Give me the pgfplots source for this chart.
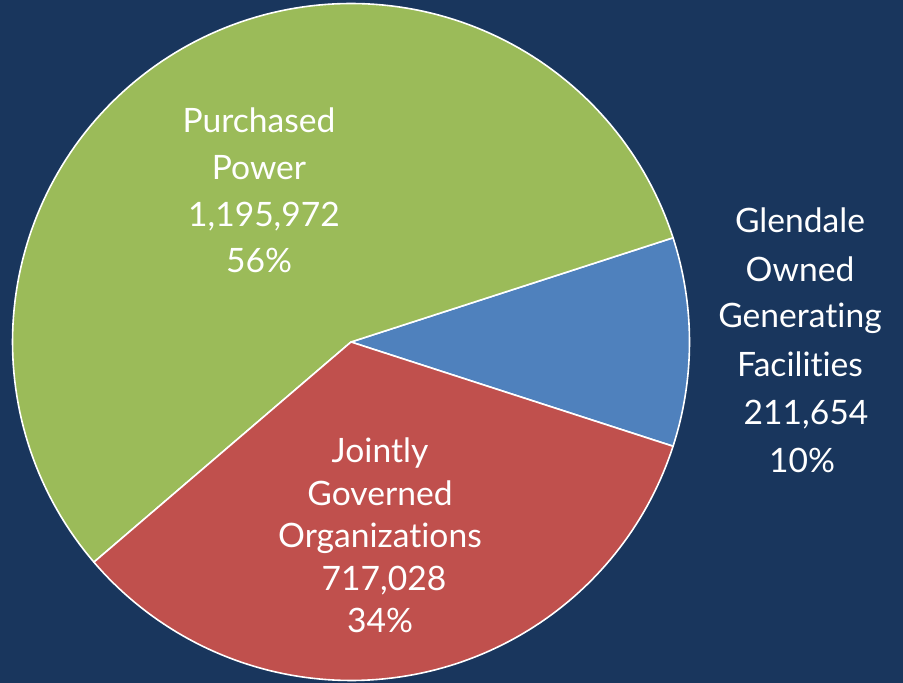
\documentclass[border=0pt]{standalone}
\usepackage{pgfplots}
\pgfplotsset{compat=1.18}
\usepackage{fontspec}
\setmainfont[Ligatures={NoCommon,NoRare,NoContextual}]{Lato}
\definecolor{bgc}{HTML}{19365D}
\definecolor{pgreen}{HTML}{9BBB59}
\definecolor{pred}{HTML}{C0504D}
\definecolor{pblue}{HTML}{4F81BD}
\tikzset{lbl/.style={text=white, anchor=base, inner sep=0pt, font=\fontsize{16.8}{20}\selectfont}}
% data (thousands)
\def\vA{211.654}   % Glendale Owned Generating Facilities
\def\vB{1195.972}  % Purchased Power
\def\vC{717.028}   % Jointly Governed Organizations
\pgfmathsetmacro\T{\vA+\vB+\vC}
\pgfmathsetmacro\fA{\vA/\T}
\pgfmathsetmacro\fB{\vB/\T}
\pgfmathsetmacro\fC{\vC/\T}
\pgfmathsetmacro\aS{-180*\fA}
\pgfmathsetmacro\aA{\aS+360*\fA}
\pgfmathsetmacro\aB{\aA+360*\fB}
\pgfmathsetmacro\aC{\aB+360*\fC}
\begin{document}
\begin{tikzpicture}
\fill[bgc] (0,0) rectangle (451.5pt,341.5pt);
\begin{axis}[at={(0,0)}, anchor=south west, scale only axis,
  width=451.5pt, height=341.5pt, xmin=0, xmax=903, ymin=0, ymax=683,
  hide axis, clip=false]
\addplot[fill=pblue, draw=white, line width=0.8pt, line join=round, domain=\aS:\aA, samples=40, variable=\t]
  ({351+338.5*cos(t)},{341+338.5*sin(t)}) -- (axis cs:351,341) -- cycle;
\addplot[fill=pgreen, draw=white, line width=0.8pt, line join=round, domain=\aA:\aB, samples=150, variable=\t]
  ({351+338.5*cos(t)},{341+338.5*sin(t)}) -- (axis cs:351,341) -- cycle;
\addplot[fill=pred, draw=white, line width=0.8pt, line join=round, domain=\aB:\aC, samples=100, variable=\t]
  ({351+338.5*cos(t)},{341+338.5*sin(t)}) -- (axis cs:351,341) -- cycle;
% Purchased Power
\node[lbl] at (axis cs:259,550) {Purchased};
\node[lbl] at (axis cs:259,503) {Power};
\node[lbl] at (axis cs:264,456) {1,195,972};
\node[lbl] at (axis cs:259,410) {56\%};
% Glendale
\node[lbl] at (axis cs:800,450) {Glendale};
\node[lbl] at (axis cs:800,401) {Owned};
\node[lbl] at (axis cs:800,355) {Generating};
\node[lbl] at (axis cs:800,306) {Facilities};
\node[lbl] at (axis cs:806,258) {211,654};
\node[lbl] at (axis cs:802,210) {10\%};
% Jointly
\node[lbl] at (axis cs:380,220) {Jointly};
\node[lbl] at (axis cs:380,177) {Governed};
\node[lbl] at (axis cs:380,135) {Organizations};
\node[lbl] at (axis cs:384,92) {717,028};
\node[lbl] at (axis cs:380,50) {34\%};
\end{axis}
\end{tikzpicture}
\end{document}
